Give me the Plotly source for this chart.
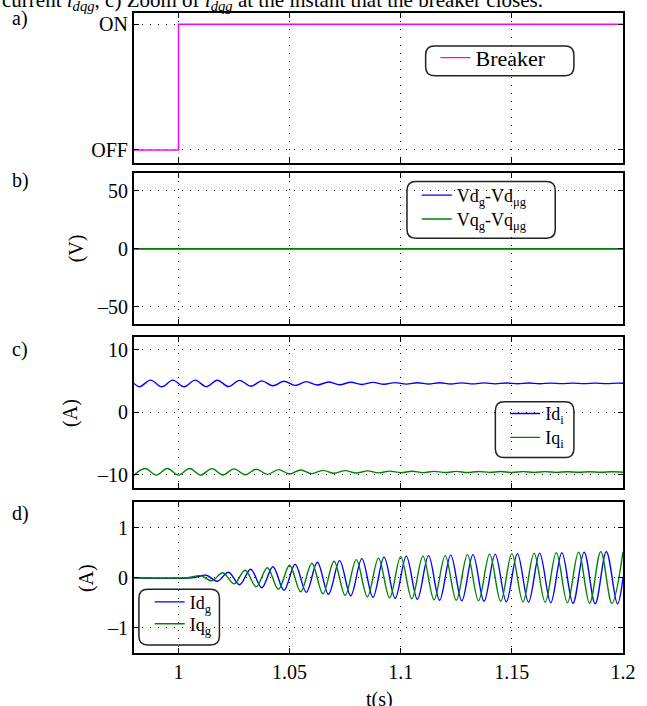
import plotly.graph_objects as go

# ---------------- data ----------------
x_ticks = [1, 1.05, 1.1, 1.15, 1.2]
x_tick_labels = ["1", "1.05", "1.1", "1.15", "1.2"]

breaker_t = [0.98, 1.0, 1.2]
breaker_state = [0, 1, 1]
breaker_ticks = [0, 1]
breaker_tick_labels = ["OFF", "ON"]

vdiff_t = [0.98, 1.2]
vd_diff = [0, 0]
vq_diff = [0, 0]
v_ticks = [-50, 0, 50]
v_tick_labels = ["\u201350", "0", "50"]

idi_t = [0.98, 0.9825, 0.9875, 0.9925, 0.9975, 1.0025, 1.0075, 1.0125, 1.0175, 1.0225,
         1.0275, 1.0325, 1.0375, 1.0425, 1.0475, 1.0525, 1.0575, 1.0625, 1.0675, 1.0725,
         1.0775, 1.0825, 1.0875, 1.0925, 1.0975, 1.1025, 1.1075, 1.1125, 1.1175, 1.1225,
         1.1275, 1.1325, 1.1375, 1.1425, 1.1475, 1.1525, 1.1575, 1.1625, 1.1675, 1.1725,
         1.1775, 1.1825, 1.1875, 1.1925, 1.1975, 1.2]
idi = [4.60, 4.07, 5.13, 4.07, 5.13, 4.07, 5.13, 4.08, 5.11, 4.10,
       5.08, 4.15, 5.00, 4.22, 4.94, 4.28, 4.88, 4.34, 4.83, 4.39,
       4.79, 4.43, 4.76, 4.46, 4.73, 4.48, 4.71, 4.50, 4.70, 4.51,
       4.69, 4.52, 4.68, 4.53, 4.67, 4.54, 4.66, 4.55, 4.65, 4.56,
       4.65, 4.56, 4.64, 4.57, 4.64, 4.62]

iqi_t = [0.98, 0.985, 0.99, 0.995, 1.0, 1.005, 1.01, 1.015, 1.02, 1.025,
         1.03, 1.035, 1.04, 1.045, 1.05, 1.055, 1.06, 1.065, 1.07, 1.075,
         1.08, 1.085, 1.09, 1.095, 1.10, 1.105, 1.11, 1.115, 1.12, 1.125,
         1.13, 1.135, 1.14, 1.145, 1.15, 1.155, 1.16, 1.165, 1.17, 1.175,
         1.18, 1.185, 1.19, 1.195, 1.2]
iqi = [-10.03, -8.97, -10.03, -8.97, -10.03, -8.97, -10.02, -8.99, -10.00, -9.02,
       -9.96, -9.08, -9.90, -9.14, -9.84, -9.20, -9.78, -9.26, -9.73, -9.31,
       -9.69, -9.35, -9.66, -9.38, -9.64, -9.40, -9.62, -9.42, -9.61, -9.43,
       -9.60, -9.44, -9.59, -9.45, -9.59, -9.46, -9.58, -9.47, -9.58, -9.48,
       -9.57, -9.48, -9.57, -9.49, -9.56]
i_ticks = [-10, 0, 10]
i_tick_labels = ["\u201310", "0", "10"]

idg_t = [0.98, 1.006, 1.0125, 1.0175, 1.0225, 1.0275, 1.0325, 1.0375, 1.0425, 1.0475,
         1.0525, 1.0575, 1.0625, 1.0675, 1.0725, 1.0775, 1.0825, 1.0875, 1.0925, 1.0975,
         1.1025, 1.1075, 1.1125, 1.1175, 1.1225, 1.1275, 1.1325, 1.1375, 1.1425, 1.1475,
         1.1525, 1.1575, 1.1625, 1.1675, 1.1725, 1.1775, 1.1825, 1.1875, 1.1925, 1.1975, 1.2]
idg = [0, 0, 0.05, -0.07, 0.11, -0.14, 0.17, -0.20, 0.22, -0.25,
       0.27, -0.29, 0.31, -0.33, 0.34, -0.36, 0.38, -0.39, 0.41, -0.41,
       0.43, -0.43, 0.44, -0.45, 0.45, -0.46, 0.46, -0.47, 0.47, -0.48,
       0.48, -0.49, 0.49, -0.50, 0.50, -0.51, 0.51, -0.52, 0.52, -0.52, 0.0]

iqg_t = [0.98, 1.004, 1.01, 1.015, 1.02, 1.025, 1.03, 1.035, 1.04, 1.045,
         1.05, 1.055, 1.06, 1.065, 1.07, 1.075, 1.08, 1.085, 1.09, 1.095,
         1.10, 1.105, 1.11, 1.115, 1.12, 1.125, 1.13, 1.135, 1.14, 1.145,
         1.15, 1.155, 1.16, 1.165, 1.17, 1.175, 1.18, 1.185, 1.19, 1.195, 1.2]
iqg = [0, 0, 0.04, -0.06, 0.10, -0.12, 0.15, -0.18, 0.20, -0.23,
       0.25, -0.28, 0.29, -0.32, 0.33, -0.35, 0.36, -0.38, 0.39, -0.40,
       0.42, -0.42, 0.43, -0.44, 0.44, -0.45, 0.46, -0.46, 0.47, -0.47,
       0.48, -0.48, 0.49, -0.49, 0.50, -0.50, 0.51, -0.51, 0.52, -0.51, 0.52]
ig_ticks = [-1, 0, 1]
ig_tick_labels = ["\u20131", "0", "1"]

# ---------------- layout helpers ----------------
W, H = 647, 706
L, R, T, B = 134, 632, 11, 653


def px(x):
    return (x - L) / (R - L)


def py(y):
    return (B - y) / (B - T)


FONT = "Liberation Serif"
BLUE = "#0000ff"
GREEN = "#008000"
MAG = "#ff00ff"
LW = 1.4

fig = go.Figure()

fig.add_trace(go.Scatter(x=breaker_t, y=breaker_state, mode="lines", line=dict(color=MAG, width=LW, shape="hv"),
                         name="Breaker", xaxis="x", yaxis="y", legend="legend"))
fig.add_trace(go.Scatter(x=vdiff_t, y=vd_diff, mode="lines", line=dict(color=BLUE, width=LW),
                         name="Vd<sub>g</sub>-Vd<sub>\u03bcg</sub>", xaxis="x2", yaxis="y2", legend="legend2"))
fig.add_trace(go.Scatter(x=vdiff_t, y=vq_diff, mode="lines", line=dict(color=GREEN, width=LW),
                         name="Vq<sub>g</sub>-Vq<sub>\u03bcg</sub>", xaxis="x2", yaxis="y2", legend="legend3"))
fig.add_trace(go.Scatter(x=idi_t, y=idi, mode="lines", line=dict(color=BLUE, width=LW, shape="spline"),
                         name="Id<sub>i</sub>", xaxis="x3", yaxis="y3", legend="legend4"))
fig.add_trace(go.Scatter(x=iqi_t, y=iqi, mode="lines", line=dict(color=GREEN, width=LW, shape="spline"),
                         name="Iq<sub>i</sub>", xaxis="x3", yaxis="y3", legend="legend5"))
fig.add_trace(go.Scatter(x=idg_t, y=idg, mode="lines", line=dict(color=BLUE, width=LW, shape="spline"),
                         name="Id<sub>g</sub>", xaxis="x4", yaxis="y4", legend="legend6"))
fig.add_trace(go.Scatter(x=iqg_t, y=iqg, mode="lines", line=dict(color=GREEN, width=LW, shape="spline"),
                         name="Iq<sub>g</sub>", xaxis="x4", yaxis="y4", legend="legend7"))

panels = [  # (top px, bottom px, y range, tickvals, ticktext)
    (11, 161, [-0.1, 1.09], breaker_ticks, breaker_tick_labels),
    (172, 323, [-65, 65], v_ticks, v_tick_labels),
    (336, 487, [-12, 12], i_ticks, i_tick_labels),
    (502, 653, [-1.5, 1.5], ig_ticks, ig_tick_labels),
]

common = dict(showline=True, mirror="allticks", linecolor="black", linewidth=2,
              ticks="inside", ticklen=5, tickcolor="black", tickwidth=1,
              showgrid=True, gridcolor="black", gridwidth=1, griddash="1px,7px",
              zeroline=False, tickfont=dict(family=FONT, size=20, color="black"))

lay = {}
for i, (top, bot, yr, tv, tt) in enumerate(panels):
    sfx = "" if i == 0 else str(i + 1)
    lay["xaxis" + sfx] = dict(common, domain=[0, 1], range=[0.98, 1.2], tickvals=x_ticks,
                              ticktext=x_tick_labels, showticklabels=(i == 3),
                              anchor="y" + sfx, **({} if i == 0 else {"matches": "x"}))
    lay["yaxis" + sfx] = dict(common, domain=[py(bot), py(top)], range=yr, tickvals=tv,
                              ticktext=tt, anchor="x" + sfx)

leg_common = dict(bgcolor="rgba(0,0,0,0)", borderwidth=0, xanchor="left", yanchor="middle",
                  font=dict(family=FONT, size=18, color="black"), tracegroupgap=0)
legend_pos = [(441, 56, 22), (422, 194, 18), (422, 218, 18), (512, 413, 18), (512, 437, 18),
              (150, 602, 18), (150, 624, 18)]
for k, (lx, ly, fs) in enumerate(legend_pos):
    name = "legend" if k == 0 else f"legend{k + 1}"
    lay[name] = dict(leg_common, x=px(lx), y=py(ly), font=dict(family=FONT, size=fs, color="black"))


def rbox(x0, y0, x1, y1, r=9):
    rx, ry = r / (R - L), r / (B - T)
    X0, X1, Y0, Y1 = px(x0), px(x1), py(y1), py(y0)
    p = (f"M {X0+rx},{Y0} L {X1-rx},{Y0} Q {X1},{Y0} {X1},{Y0+ry} L {X1},{Y1-ry} "
         f"Q {X1},{Y1} {X1-rx},{Y1} L {X0+rx},{Y1} Q {X0},{Y1} {X0},{Y1-ry} "
         f"L {X0},{Y0+ry} Q {X0},{Y0} {X0+rx},{Y0} Z")
    return dict(type="path", xref="paper", yref="paper", path=p,
                line=dict(color="#222222", width=1.5), fillcolor="rgba(0,0,0,0)", layer="above")


shapes = [rbox(431, 44, 582, 74), rbox(412, 180, 563, 237), rbox(502, 401, 582, 457), rbox(139, 589, 221, 645)]


def ann(text, x, y, size=20, xanchor="center", yanchor="middle", angle=0):
    return dict(text=text, x=px(x), y=py(y), xref="paper", yref="paper", showarrow=False,
                xanchor=xanchor, yanchor=yanchor, textangle=angle,
                font=dict(family=FONT, size=size, color="black"))


annotations = [
    ann("current <i>i</i><sub><i>dqg</i></sub>, c) Zoom of <i>i</i><sub><i>dqg</i></sub> at the instant that the breaker closes.",
        -2, 14, size=21, xanchor="left", yanchor="bottom"),
    ann("a)", 18, 17), ann("b)", 18, 179), ann("c)", 18, 349), ann("d)", 18, 513),
    ann("(V)", 75, 247, angle=-90), ann("(A)", 70, 412, angle=-90), ann("(A)", 85, 578, angle=-90),
    ann("t(s)", 384, 700),
]

fig.update_layout(width=W, height=H, margin=dict(l=L, r=W - R, t=T, b=H - B),
                  paper_bgcolor="white", plot_bgcolor="white", showlegend=True,
                  shapes=shapes, annotations=annotations, **lay)

fig.write_html("out.html")
